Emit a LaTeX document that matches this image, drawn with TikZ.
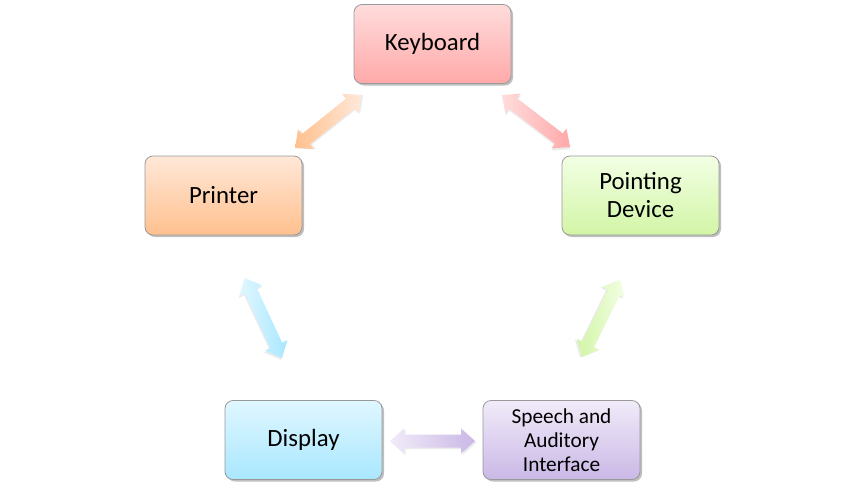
\documentclass[tikz,border=0pt]{standalone}
\usepackage{fontspec}
\setmainfont{Carlito}
\usetikzlibrary{shadows,calc}
\definecolor{kbT}{HTML}{FFDCDC}\definecolor{kbB}{HTML}{FFA9A9}
\definecolor{prT}{HTML}{FFE8D8}\definecolor{prB}{HTML}{FFC08E}
\definecolor{pdT}{HTML}{F2FFE4}\definecolor{pdB}{HTML}{D2F5A6}
\definecolor{diT}{HTML}{E0F7FF}\definecolor{diB}{HTML}{A9E7FF}
\definecolor{spT}{HTML}{F1EBF9}\definecolor{spB}{HTML}{CAB8E6}
\tikzset{
  box/.style={draw=black!40, line width=0.8pt, rounded corners=8pt, minimum width=157pt,
    minimum height=79pt, inner sep=0pt, align=center, font=\fontsize{24.8}{28}\selectfont,
    drop shadow={shadow xshift=2pt, shadow yshift=-2pt, opacity=0.25, fill=black}},
}
\newcommand{\blockarr}[4]{% from, to, colour at start, colour at end
  \path (#1); \pgfgetlastxy{\ax}{\ay}%
  \path (#2); \pgfgetlastxy{\bx}{\by}%
  \pgfmathsetmacro\ang{atan2(\by-\ay,\bx-\ax)}%
  \pgfmathsetmacro\hl{veclen(\bx-\ax,\by-\ay)/2}%
  \pgfmathsetmacro\hk{\hl-14}%
  \begin{scope}[shift={($(#1)!0.5!(#2)$)}, rotate=\ang, x=1pt, y=1pt]
    \fill[black, opacity=0.08, xshift=1.5pt, yshift=-1.5pt]
      (-\hl,0) -- (-\hk,12.5) -- (-\hk,6.5) -- (\hk,6.5) -- (\hk,12.5) -- (\hl,0)
      -- (\hk,-12.5) -- (\hk,-6.5) -- (-\hk,-6.5) -- (-\hk,-12.5) -- cycle;
    \shade[left color=#3, right color=#4]
      (-\hl,0) -- (-\hk,12.5) -- (-\hk,6.5) -- (\hk,6.5) -- (\hk,12.5) -- (\hl,0)
      -- (\hk,-12.5) -- (\hk,-6.5) -- (-\hk,-6.5) -- (-\hk,-12.5) -- cycle;
  \end{scope}}
\begin{document}
\begin{tikzpicture}[x=1pt,y=-1pt]
\useasboundingbox[fill=white] (0,0) rectangle (864,499);
\node[box, top color=kbT, bottom color=kbB] (kb) at (432.5,44) {Keyboard};
\node[box, top color=prT, bottom color=prB] (pr) at (223.5,195.5) {Printer};
\node[box, top color=pdT, bottom color=pdB] (pd) at (640.5,195.5) {Pointing\\Device};
\node[box, top color=diT, bottom color=diB] (di) at (303.5,440) {Display};
\node[box, top color=spT, bottom color=spB, font=\fontsize{21.3}{24}\selectfont] (sp) at (561.5,440) {Speech and\\Auditory\\Interface};
\coordinate (a1) at (295,148); \coordinate (a2) at (361,95);
\coordinate (b1) at (502,95); \coordinate (b2) at (570,147);
\coordinate (c1) at (245,278); \coordinate (c2) at (282,358);
\coordinate (d1) at (620,280); \coordinate (d2) at (582,357);
\coordinate (e1) at (390,441); \coordinate (e2) at (475,441);
\blockarr{a1}{a2}{prB}{prT}
\blockarr{b1}{b2}{kbT}{kbB}
\blockarr{c1}{c2}{diT}{diB}
\blockarr{d1}{d2}{pdB}{pdT}
\blockarr{e1}{e2}{spT}{spB}
\end{tikzpicture}
\end{document}
